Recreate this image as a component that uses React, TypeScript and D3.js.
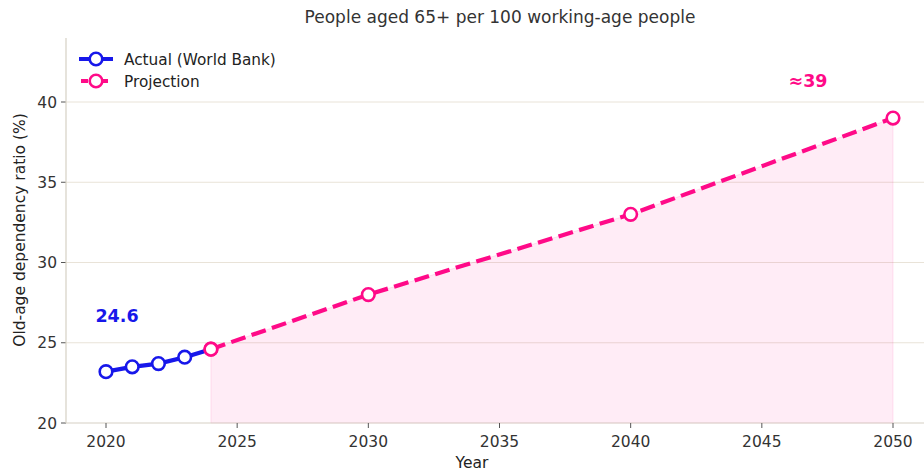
import React from "react";
import * as d3 from "d3";

const actualYears = [2020, 2021, 2022, 2023, 2024];
const actualValues = [23.2, 23.5, 23.7, 24.1, 24.6];
const projYears = [2024, 2030, 2040, 2050];
const projValues = [24.6, 28.0, 33.0, 39.0];
const xTicks = [2020, 2025, 2030, 2035, 2040, 2045, 2050];
const yTicks = [20, 25, 30, 35, 40];

const W = 924;
const H = 472;
const BLUE = "#1717ea";
const PINK = "#ff0a88";
const FONT = "DejaVu Sans, sans-serif";

export default function App() {
  const left = 66;
  const top = 38;
  const bottom = 423;
  const x = d3.scaleLinear().domain([2020, 2050]).range([106, 893]);
  const y = d3.scaleLinear().domain([20, 40]).range([423, 102]);
  const plotRight = 940;
  const R = 6.3;

  const actual = actualYears.map((yr, i) => [yr, actualValues[i]] as [number, number]);
  const proj = projYears.map((yr, i) => [yr, projValues[i]] as [number, number]);
  const line = d3.line<[number, number]>().x((d) => x(d[0])).y((d) => y(d[1]));
  const area = d3
    .area<[number, number]>()
    .x((d) => x(d[0]))
    .y0(y(20))
    .y1((d) => y(d[1]));

  const gridColor = "#e9e3d8";
  const spineColor = "#d6d0c4";
  const textColor = "#333333";

  return (
    <svg width={W} height={H} style={{ position: "absolute", left: 0, top: 0, background: "#fff" }} fontFamily={FONT}>
      <rect x={0} y={0} width={W} height={H} fill="#fff" />
      <text x={500} y={23} textAnchor="middle" fontSize={17} fill={textColor}>
        People aged 65+ per 100 working-age people
      </text>
      {yTicks.map((t) => (
        <g key={t}>
          {t !== 20 && <line x1={left} x2={plotRight} y1={y(t)} y2={y(t)} stroke={gridColor} strokeWidth={1} />}
          <line x1={left - 5} x2={left} y1={y(t)} y2={y(t)} stroke="#555" strokeWidth={1} />
          <text x={left - 9} y={y(t) + 5.5} textAnchor="end" fontSize={15.5} fill={textColor}>
            {t}
          </text>
        </g>
      ))}
      <path d={area(proj) || ""} fill={PINK} fillOpacity={0.08} stroke={PINK} strokeOpacity={0.1} strokeWidth={1} />
      <line x1={left} x2={left} y1={top} y2={bottom} stroke={spineColor} strokeWidth={1.2} />
      <line x1={left} x2={plotRight} y1={bottom} y2={bottom} stroke={spineColor} strokeWidth={1.2} />
      {xTicks.map((t) => (
        <g key={t}>
          <line x1={x(t)} x2={x(t)} y1={bottom} y2={bottom + 5} stroke="#555" strokeWidth={1} />
          <text x={x(t)} y={bottom + 24} textAnchor="middle" fontSize={15.5} fill={textColor}>
            {t}
          </text>
        </g>
      ))}
      <path d={line(actual) || ""} fill="none" stroke={BLUE} strokeWidth={4.2} strokeLinejoin="round" />
      <path d={line(proj) || ""} fill="none" stroke={PINK} strokeWidth={4.2} strokeDasharray="15,6.5" />
      {actual.map((d, i) => (
        <circle key={"a" + i} cx={x(d[0])} cy={y(d[1])} r={R} fill="#fff" stroke={i === actual.length - 1 ? PINK : BLUE} strokeWidth={2.6} />
      ))}
      {proj.slice(1).map((d, i) => (
        <circle key={"p" + i} cx={x(d[0])} cy={y(d[1])} r={R} fill="#fff" stroke={PINK} strokeWidth={2.6} />
      ))}
      <circle cx={x(proj[0][0])} cy={y(proj[0][1])} r={R} fill="#fff" stroke={PINK} strokeWidth={2.6} />
      <text x={117} y={322} textAnchor="middle" fontSize={17.5} fontWeight="bold" fill={BLUE}>
        {actualValues[actualValues.length - 1].toFixed(1)}
      </text>
      <text x={808} y={87} textAnchor="middle" fontSize={17.5} fontWeight="bold" fill={PINK}>
        ≈{projValues[projValues.length - 1]}
      </text>
      <g>
        <line x1={79} x2={113} y1={59} y2={59} stroke={BLUE} strokeWidth={4.2} />
        <circle cx={96} cy={59} r={R} fill="#fff" stroke={BLUE} strokeWidth={2.6} />
        <text x={124} y={64.5} fontSize={15.3} fill="#222">Actual (World Bank)</text>
        <line x1={81} x2={111} y1={81} y2={81} stroke={PINK} strokeWidth={4.2} strokeDasharray="7,3" />
        <circle cx={96} cy={81} r={R} fill="#fff" stroke={PINK} strokeWidth={2.6} />
        <text x={124} y={86.5} fontSize={15.3} fill="#222">Projection</text>
      </g>
      <text x={472} y={468} textAnchor="middle" fontSize={15.5} fill="#222">Year</text>
      <text transform={`translate(25,230) rotate(-90)`} textAnchor="middle" fontSize={15.5} fill="#222">
        Old-age dependency ratio (%)
      </text>
    </svg>
  );
}
